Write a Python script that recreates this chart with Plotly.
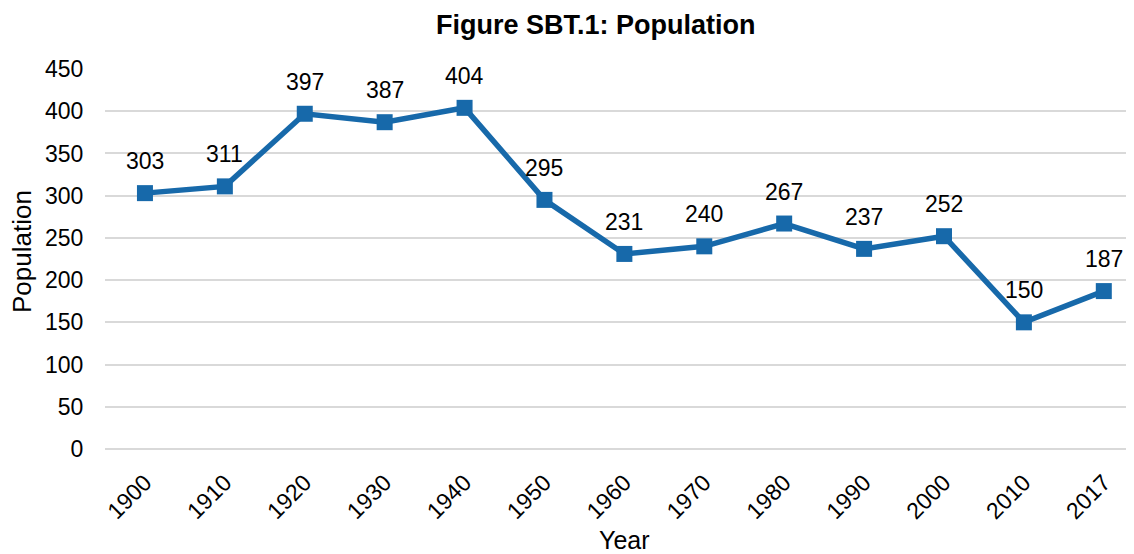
import plotly.graph_objects as go

years = ["1900", "1910", "1920", "1930", "1940", "1950", "1960", "1970", "1980", "1990", "2000", "2010", "2017"]
population = [303, 311, 397, 387, 404, 295, 231, 240, 267, 237, 252, 150, 187]
y_ticks = [0, 50, 100, 150, 200, 250, 300, 350, 400, 450]

blue = "#1769AA"
font_family = "Liberation Sans, Arial, sans-serif"
idx = list(range(len(years)))

fig = go.Figure()
fig.add_trace(go.Scatter(
    x=idx, y=population, mode="lines+markers",
    line=dict(color=blue, width=5.5),
    marker=dict(symbol="square", size=16, color=blue),
    customdata=years, hovertemplate="%{customdata}: %{y}<extra></extra>",
    cliponaxis=False,
))

for x, y in zip(idx, population):
    fig.add_annotation(x=x, y=y, xref="x", yref="y", text=str(y), showarrow=False,
                       yshift=32, xanchor="center", yanchor="middle",
                       font=dict(family=font_family, size=23, color="#000000"))

# axis titles
fig.add_annotation(x=0.5, y=0, xref="paper", yref="paper", text="Year",
                   showarrow=False, xanchor="center", yanchor="middle",
                   xshift=5, yshift=-91,
                   font=dict(family=font_family, size=25, color="#000000"))
fig.add_annotation(x=0, y=0.5, xref="paper", yref="paper", text="Population",
                   showarrow=False, xanchor="center", yanchor="middle", textangle=-90,
                   xshift=-83, yshift=7,
                   font=dict(family=font_family, size=26, color="#000000"))

# page body has an 8px default margin; compensate so the plot lands where the reference has it
fig.update_layout(
    width=1126, height=546,
    margin=dict(l=97, r=0, t=61, b=105),
    paper_bgcolor="white", plot_bgcolor="white",
    showlegend=False,
    title=dict(text="<b>Figure SBT.1: Population</b>", x=0.522, xanchor="center",
               y=0.969, yanchor="middle",
               font=dict(family=font_family, size=27, color="#000000")),
    font=dict(family=font_family, color="#000000"),
)
fig.update_xaxes(
    range=[-0.5, 12.378], tickvals=idx, ticktext=years, automargin=False,
    tickangle=-45, tickfont=dict(size=23, color="#000000"),
    showgrid=False, showline=False, zeroline=False,
    ticks="outside", ticklen=10, tickcolor="rgba(0,0,0,0)",
)
fig.update_yaxes(
    range=[0, 450], tickvals=y_ticks, automargin=False,
    tickfont=dict(size=23, color="#000000"),
    showgrid=True, gridcolor="#D9D9D9", gridwidth=2,
    zeroline=True, zerolinecolor="#D9D9D9", zerolinewidth=2,
    showline=False, ticks="outside", ticklen=16, tickcolor="rgba(0,0,0,0)",
)

fig.write_html("out.html")
